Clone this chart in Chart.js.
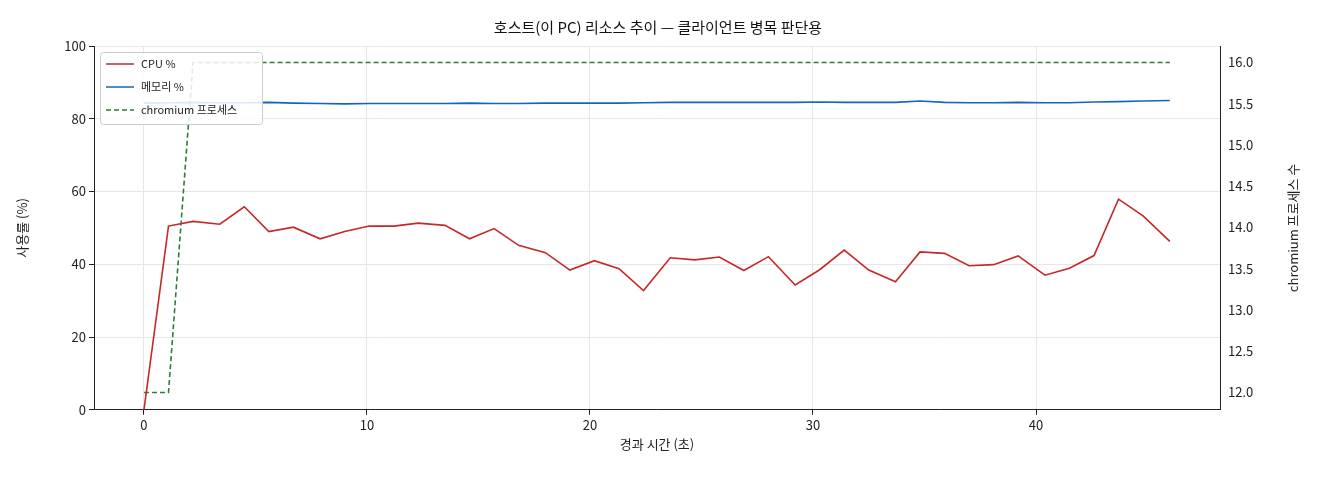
<!DOCTYPE html><html><head><meta charset="utf-8">
<script src="https://cdn.jsdelivr.net/npm/chart.js@4/dist/chart.umd.min.js"></script>
<style>body{margin:0;background:#fff}#w{width:1320px;height:480px}</style></head><body>
<div id="w"><canvas id="c"></canvas></div>
<script>
const times=[0,1.1,2.2,3.4,4.5,5.6,6.7,7.9,9.0,10.1,11.2,12.3,13.5,14.6,15.7,16.8,18.0,19.1,20.2,21.3,22.4,23.6,24.7,25.8,26.9,28.0,29.2,30.3,31.4,32.5,33.7,34.8,35.9,37.0,38.1,39.2,40.4,41.5,42.6,43.7,44.8,46.0];
const cpu=[0,50.5,51.8,51,55.8,49,50.2,47,49,50.5,50.5,51.3,50.7,47,49.8,45.2,43.2,38.4,41,38.8,32.8,41.8,41.2,42,38.3,42.1,34.3,38.5,43.9,38.4,35.2,43.4,43,39.6,39.9,42.3,37,38.9,42.4,57.9,53.3,46.3];
const mem=[84.3,84.4,84.5,84.4,84.4,84.5,84.3,84.2,84.1,84.2,84.2,84.2,84.2,84.3,84.2,84.2,84.3,84.3,84.3,84.3,84.4,84.5,84.5,84.5,84.5,84.5,84.5,84.6,84.5,84.5,84.5,84.9,84.5,84.4,84.4,84.5,84.4,84.4,84.6,84.7,84.9,85.0];
const procs=[12,12,16,16,16,16,16,16,16,16,16,16,16,16,16,16,16,16,16,16,16,16,16,16,16,16,16,16,16,16,16,16,16,16,16,16,16,16,16,16,16,16];
const F="'Noto Sans CJK KR','DejaVu Sans',sans-serif";
const pts=a=>a.map((v,i)=>({x:times[i],y:v}));
const legendPlugin={id:'lg',afterDraw(ch){const c=ch.ctx,x=100,y=52;c.save();
c.fillStyle='rgba(255,255,255,0.85)';c.strokeStyle='#ccc';c.lineWidth=1;
c.beginPath();c.roundRect(x+.5,y+.5,162,72,3);c.fill();c.stroke();
c.font='11px '+F;c.textBaseline='middle';
ch.data.datasets.forEach((d,i)=>{const yy=y+12+i*23;c.strokeStyle=d.borderColor;c.lineWidth=1.5;c.setLineDash(d.borderDash||[]);
c.beginPath();c.moveTo(x+6,yy);c.lineTo(x+34,yy);c.stroke();c.setLineDash([]);c.fillStyle='#222';c.fillText(d.label,x+41,yy);});
const a=ch.chartArea;c.translate(1293,(a.top+a.bottom)/2);c.rotate(-Math.PI/2);c.font='13px '+F;c.textAlign='center';c.fillStyle='#222';
c.fillText('chromium 프로세스 수',0,0);c.restore();}};
new Chart(document.getElementById('c'),{type:'line',
data:{datasets:[
{label:'CPU %',data:pts(cpu),borderColor:'#c62828',borderWidth:1.6,pointRadius:0,yAxisID:'y'},
{label:'메모리 %',data:pts(mem),borderColor:'#1565c0',borderWidth:1.6,pointRadius:0,yAxisID:'y'},
{label:'chromium 프로세스',data:pts(procs),borderColor:'#2e7d32',borderWidth:1.6,borderDash:[5,3],pointRadius:0,yAxisID:'y1'}]},
options:{responsive:true,maintainAspectRatio:false,animation:false,
layout:{padding:{left:10,right:14,top:4,bottom:24}},
plugins:{legend:{display:false},tooltip:{enabled:false},
title:{display:true,text:'호스트(이 PC) 리소스 추이 — 클라이언트 병목 판단용',color:'#111',font:{family:F,size:15,weight:'normal'},padding:{top:14,bottom:10}}},
scales:{
x:{type:'linear',min:-2.24,max:48.25,afterBuildTicks(s){s.ticks=[0,10,20,30,40].map(v=>({value:v}));},
grid:{color:'#e6e6e6',drawTicks:true,tickColor:'#222',tickLength:5},border:{color:'#222'},
ticks:{color:'#222',font:{family:F,size:13},padding:2},title:{display:true,text:'경과 시간 (초)',color:'#222',font:{family:F,size:13},padding:{top:2}}},
y:{min:0,max:100,afterBuildTicks(s){s.ticks=[0,20,40,60,80,100].map(v=>({value:v}));},afterFit(s){s.width=84;},
grid:{color:'#e6e6e6',tickColor:'#222',tickLength:5},border:{color:'#222'},
ticks:{color:'#222',font:{family:F,size:13}},title:{display:true,text:'사용률 (%)',color:'#222',font:{family:F,size:13},padding:{bottom:8}}},
y1:{position:'right',min:11.79,max:16.2,afterBuildTicks(s){s.ticks=[12,12.5,13,13.5,14,14.5,15,15.5,16].map(v=>({value:v}));},afterFit(s){s.width=86;},
grid:{display:false,tickColor:'#222',tickLength:5,drawOnChartArea:false},border:{color:'#222'},
ticks:{color:'#222',font:{family:F,size:13},callback:v=>v.toFixed(1)},title:{display:false}}}},
plugins:[legendPlugin]});
</script></body></html>
